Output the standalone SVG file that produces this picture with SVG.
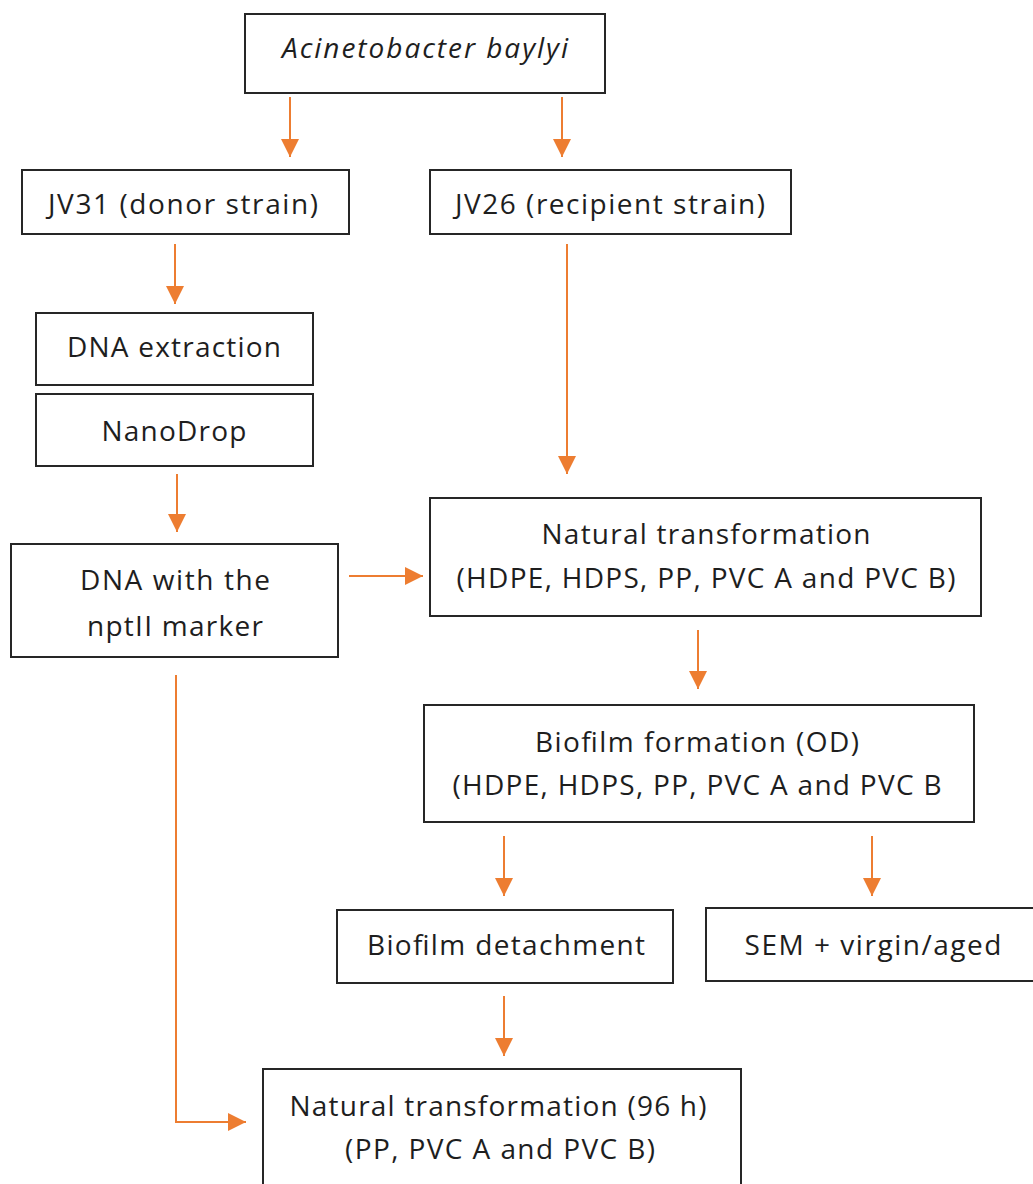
<svg xmlns="http://www.w3.org/2000/svg" width="1033" height="1184" viewBox="0 0 1033 1184">
<style>
.box{fill:#fff;stroke:#262626;stroke-width:2}
.t{font-family:"Open Sans","Liberation Sans",sans-serif;font-size:28px;fill:#1e1e1e;text-anchor:middle}
.i{font-style:italic}
.c{fill:none;stroke:#ED7D31;stroke-width:2;marker-end:url(#ah)}
</style>
<defs>
<marker id="ah" markerUnits="userSpaceOnUse" markerWidth="18" markerHeight="18" refX="18" refY="9" orient="auto">
<path d="M0,0 L18,9 L0,18 z" fill="#ED7D31"/>
</marker>
</defs>
<rect width="1033" height="1184" fill="#fff"/>
<g id="connectors">
<line class="c" x1="290" y1="97" x2="290" y2="157"/>
<line class="c" x1="562" y1="97" x2="562" y2="157"/>
<line class="c" x1="175" y1="244" x2="175" y2="304"/>
<line class="c" x1="567" y1="244" x2="567" y2="474"/>
<line class="c" x1="177" y1="474" x2="177" y2="532"/>
<line class="c" x1="349" y1="576" x2="423" y2="576"/>
<line class="c" x1="698" y1="630" x2="698" y2="689"/>
<line class="c" x1="504" y1="836" x2="504" y2="896"/>
<line class="c" x1="872" y1="836" x2="872" y2="896"/>
<line class="c" x1="504" y1="996" x2="504" y2="1056"/>
<polyline class="c" points="176,675 176,1122 246,1122"/>
</g>
<g id="acinetobacter">
<rect class="box" x="245" y="14" width="360" height="79"/>
<text class="t i" x="425" y="58" textLength="286">Acinetobacter baylyi</text>
</g>
<g id="jv31">
<rect class="box" x="22" y="170" width="327" height="64"/>
<text class="t" x="183" y="214" textLength="270">JV31 (donor strain)</text>
</g>
<g id="jv26">
<rect class="box" x="430" y="170" width="361" height="64"/>
<text class="t" x="610" y="214" textLength="310">JV26 (recipient strain)</text>
</g>
<g id="dna-extraction">
<rect class="box" x="36" y="313" width="277" height="72"/>
<text class="t" x="174" y="357" textLength="214">DNA extraction</text>
</g>
<g id="nanodrop">
<rect class="box" x="36" y="394" width="277" height="72"/>
<text class="t" x="174" y="441" textLength="145">NanoDrop</text>
</g>
<g id="dna-nptii">
<rect class="box" x="11" y="544" width="327" height="113"/>
<text class="t" x="175" y="590" textLength="190">DNA with the</text>
<text class="t" x="175" y="636" textLength="176">nptII marker</text>
</g>
<g id="natural-transformation">
<rect class="box" x="430" y="498" width="551" height="118"/>
<text class="t" x="706" y="544" textLength="329">Natural transformation</text>
<text class="t" x="706" y="588" textLength="499">(HDPE, HDPS, PP, PVC A and PVC B)</text>
</g>
<g id="biofilm-formation">
<rect class="box" x="424" y="705" width="550" height="117"/>
<text class="t" x="697" y="752" textLength="324">Biofilm formation (OD)</text>
<text class="t" x="697" y="795" textLength="489">(HDPE, HDPS, PP, PVC A and PVC B</text>
</g>
<g id="biofilm-detachment">
<rect class="box" x="337" y="910" width="336" height="73"/>
<text class="t" x="506" y="955" textLength="278">Biofilm detachment</text>
</g>
<g id="sem">
<rect class="box" x="706" y="908" width="340" height="73"/>
<text class="t" x="873" y="955" textLength="257">SEM + virgin/aged</text>
</g>
<g id="natural-transformation-96h">
<rect class="box" x="263" y="1069" width="478" height="130"/>
<text class="t" x="498" y="1116" textLength="417">Natural transformation (96 h)</text>
<text class="t" x="500" y="1159" textLength="310">(PP, PVC A and PVC B)</text>
</g>
</svg>
